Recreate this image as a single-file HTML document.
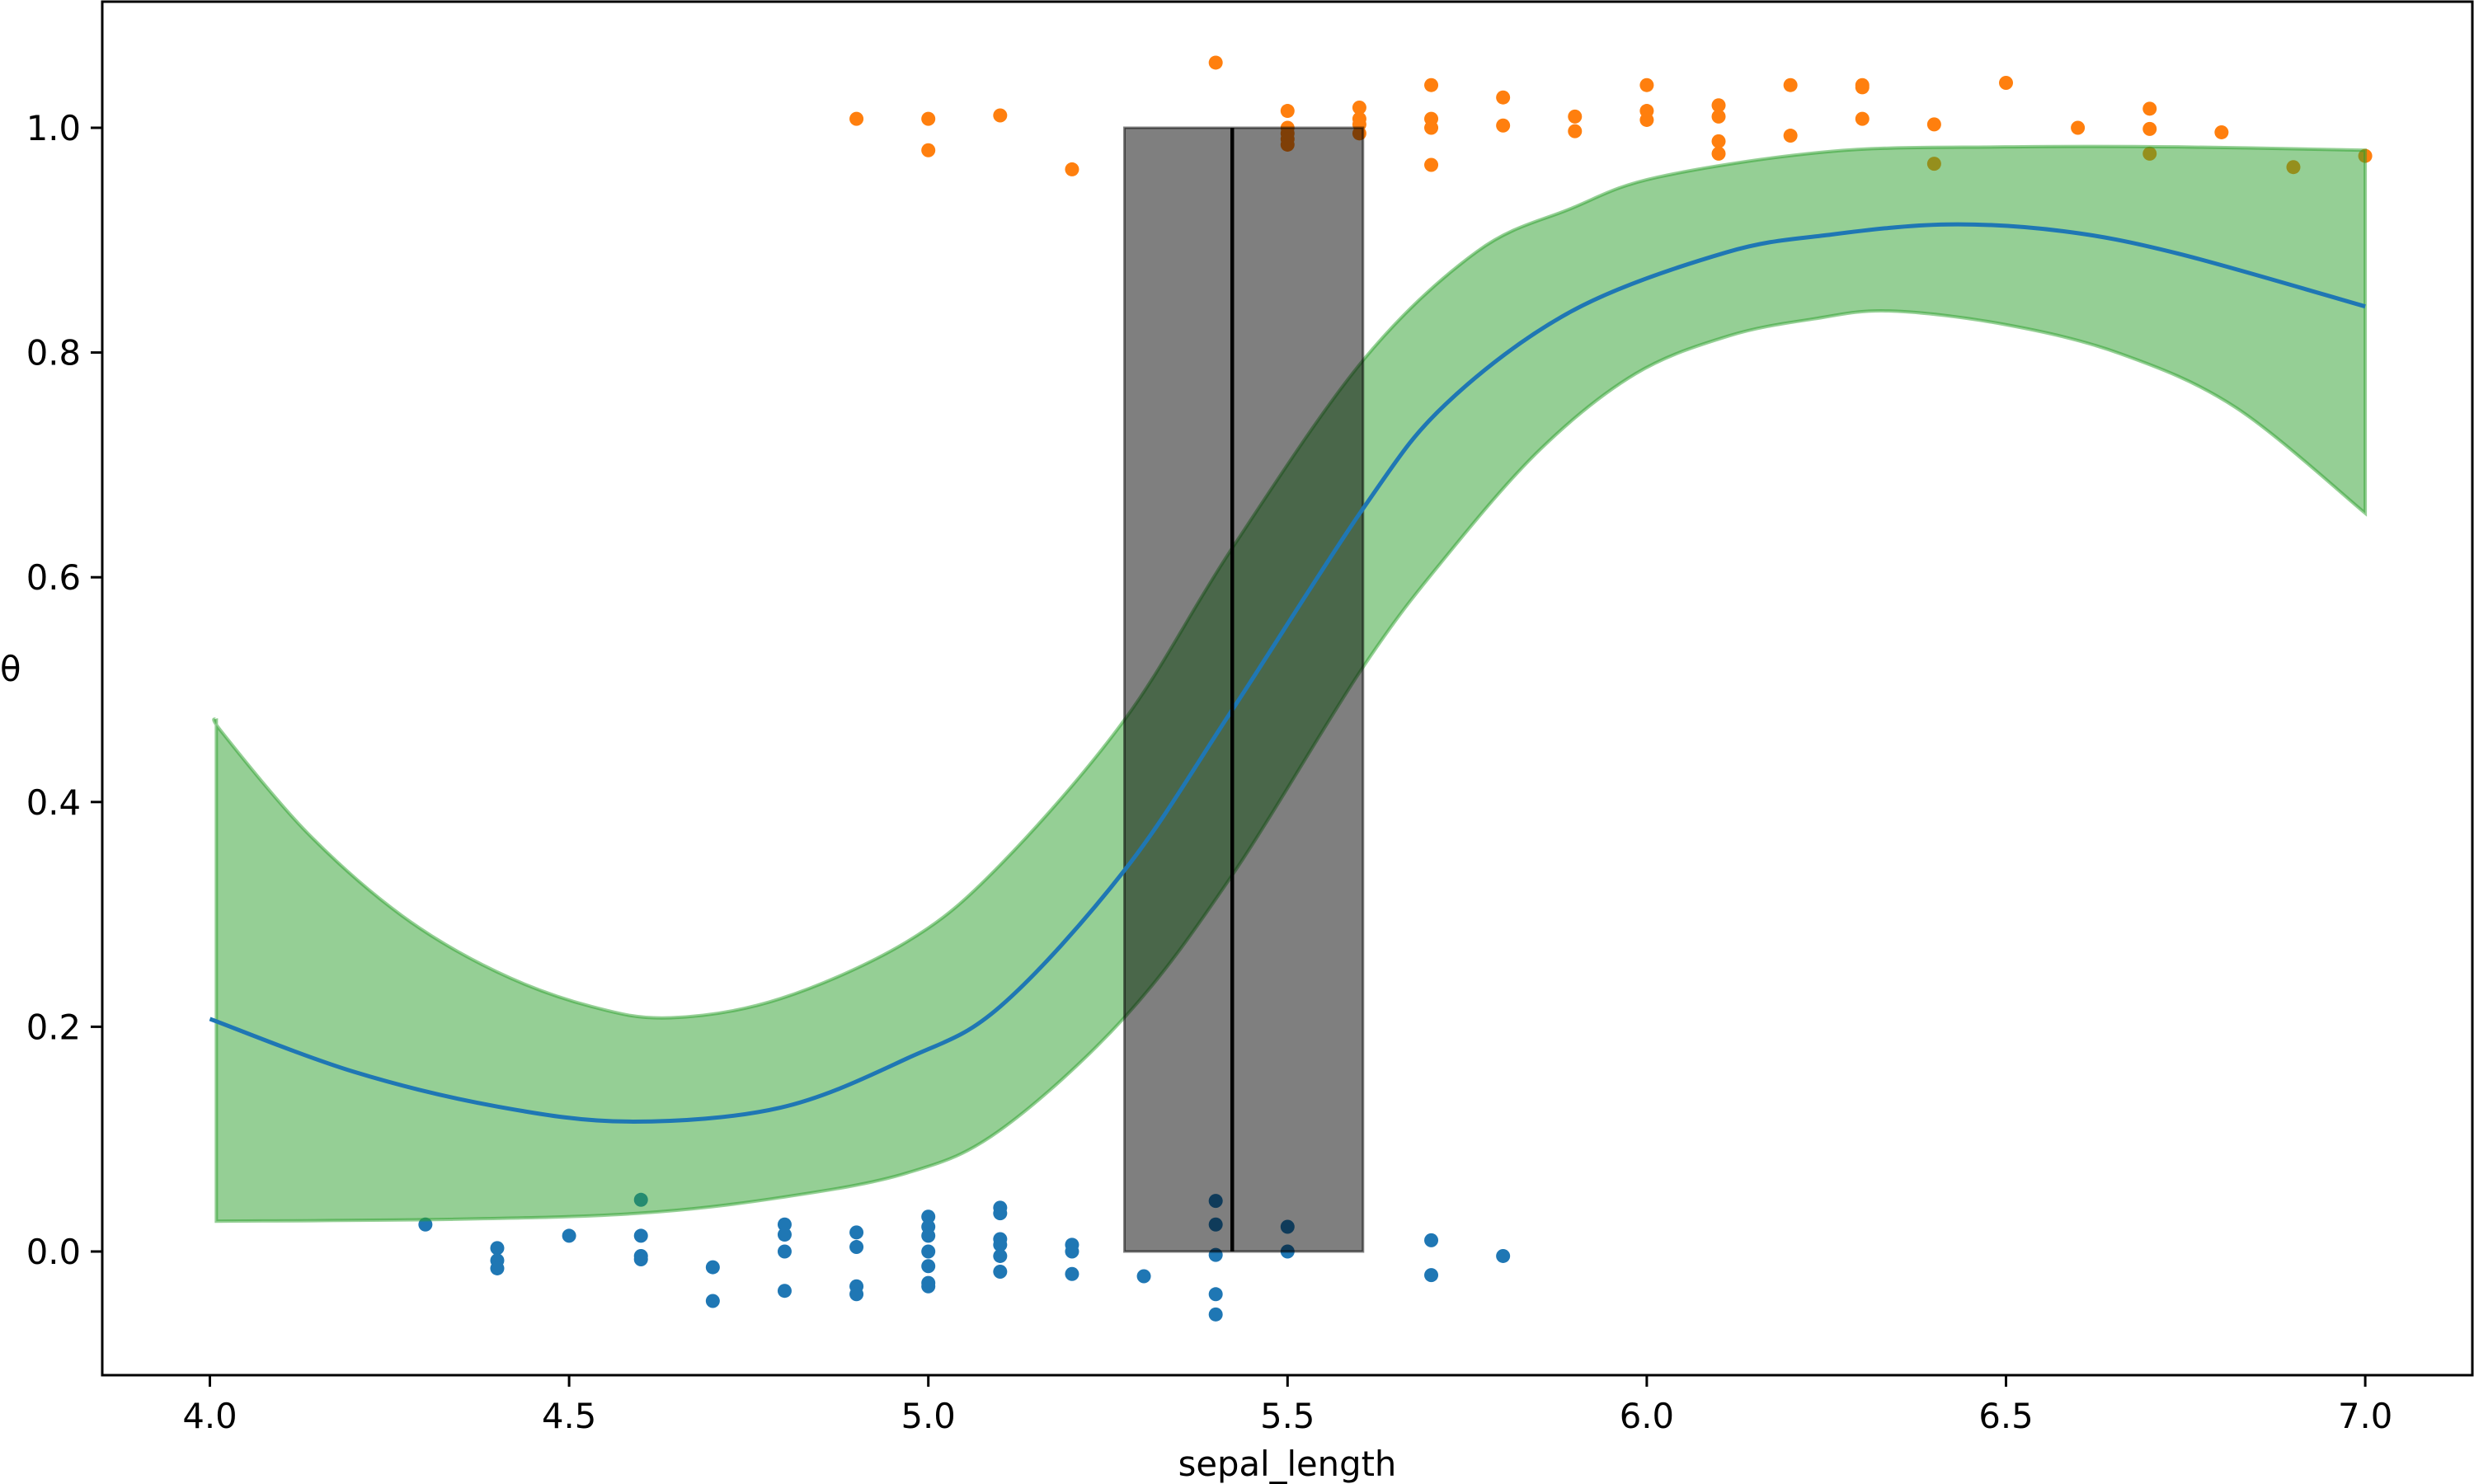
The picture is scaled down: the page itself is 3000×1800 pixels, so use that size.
<!DOCTYPE html>
<html><head><meta charset="utf-8"><style>
html,body{margin:0;padding:0;background:#fff}
svg{display:block;font-family:"DejaVu Sans","Liberation Sans",sans-serif}
</style></head><body>
<svg id="chart" width="3000" height="1800" viewBox="0 0 3000 1800" xmlns="http://www.w3.org/2000/svg">
<g id="plot"></g>
<g id="axes"></g>
</svg>
<script>
const xTicks=[4.0,4.5,5.0,5.5,6.0,6.5,7.0];
const xTickLabels=["4.0","4.5","5.0","5.5","6.0","6.5","7.0"];
const yTicks=[0.0,0.2,0.4,0.6,0.8,1.0];
const yTickLabels=["0.0","0.2","0.4","0.6","0.8","1.0"];
const upperX=[4.009,4.017,4.135,4.267,4.399,4.531,4.642,4.794,4.971,5.1,5.274,5.423,5.605,5.764,5.894,6.015,6.257,6.498,6.74,7.0];
const bandUpper=[0.474,0.462,0.373,0.299,0.249,0.218,0.208,0.225,0.276,0.344,0.474,0.626,0.793,0.89,0.928,0.956,0.979,0.983,0.983,0.980];
const lowerX=[4.009,4.333,4.596,4.794,4.971,5.1,5.274,5.423,5.605,5.72,5.852,5.984,6.115,6.233,6.337,6.498,6.659,6.82,7.0];
const bandLower=[0.027,0.0286,0.034,0.048,0.070,0.108,0.209,0.335,0.52,0.618,0.714,0.781,0.815,0.830,0.837,0.825,0.799,0.751,0.657];
const curveX=[4.0,4.2,4.4,4.584,4.794,4.971,5.1,5.274,5.423,5.605,5.72,5.896,6.11,6.257,6.418,6.579,6.74,7.0];
const curveY=[0.207,0.16,0.129,0.1156,0.128,0.172,0.218,0.340,0.482,0.661,0.754,0.837,0.889,0.905,0.914,0.908,0.888,0.841];
const class1X=[4.9,5.0,5.0,5.1,5.2,5.4,5.5,5.5,5.5,5.5,5.5,5.6,5.6,5.6,5.6,5.7,5.7,5.7,5.7,5.8,5.8,5.9,5.9,6.0,6.0,6.0,6.1,6.1,6.1,6.1,6.2,6.2,6.3,6.3,6.3,6.4,6.4,6.5,6.6,6.7,6.7,6.7,6.8,6.9,7.0];
const class1Y=[1.008,1.008,0.98,1.011,0.963,1.058,1.015,1.0,0.995,0.99,0.985,1.018,1.008,1.003,0.995,1.038,1.008,1.0,0.967,1.027,1.002,1.01,0.997,1.038,1.015,1.007,1.02,1.01,0.988,0.977,1.038,0.993,1.038,1.036,1.008,1.003,0.968,1.04,1.0,1.017,0.999,0.977,0.996,0.965,0.975];
const class0X=[4.3,4.4,4.4,4.4,4.5,4.6,4.6,4.6,4.6,4.7,4.7,4.8,4.8,4.8,4.8,4.9,4.9,4.9,4.9,5.0,5.0,5.0,5.0,5.0,5.0,5.0,5.1,5.1,5.1,5.1,5.1,5.1,5.2,5.2,5.2,5.3,5.4,5.4,5.4,5.4,5.4,5.5,5.5,5.7,5.7,5.8];
const class0Y=[0.024,0.003,-0.008,-0.015,0.014,0.046,0.014,-0.004,-0.007,-0.014,-0.044,0.024,0.015,0.0,-0.035,0.017,0.004,-0.031,-0.038,0.031,0.022,0.014,0.0,-0.013,-0.028,-0.031,0.039,0.034,0.011,0.006,-0.004,-0.018,0.006,0.0,-0.02,-0.022,0.045,0.024,-0.003,-0.038,-0.056,0.022,0.0,0.01,-0.021,-0.004];
const boundaryLow=5.273, boundaryHigh=5.605, boundaryMean=5.423;

const NS="http://www.w3.org/2000/svg";
const L=124,R=2998,T=2,B=1668;
const X=v=>254.5+(v-4.0)*871.2;
const Y=v=>1518-v*1363;
const plot=document.getElementById('plot'), axes=document.getElementById('axes');
function mk(tag,attrs,parent){const e=document.createElementNS(NS,tag);for(const k in attrs)e.setAttribute(k,attrs[k]);parent.appendChild(e);return e;}
function smooth(pts,start){
  let s=start?("M"+pts[0][0]+","+pts[0][1]):("L"+pts[0][0]+","+pts[0][1]);
  for(let i=0;i<pts.length-1;i++){
    const p0=pts[Math.max(0,i-1)],p1=pts[i],p2=pts[i+1],p3=pts[Math.min(pts.length-1,i+2)];
    const c1=[p1[0]+(p2[0]-p0[0])/6,p1[1]+(p2[1]-p0[1])/6];
    const c2=[p2[0]-(p3[0]-p1[0])/6,p2[1]-(p3[1]-p1[1])/6];
    s+="C"+c1[0]+","+c1[1]+" "+c2[0]+","+c2[1]+" "+p2[0]+","+p2[1];
  }
  return s;
}

class1X.forEach((x,i)=>{const c=mk('circle',{cx:X(x),cy:Y(class1Y[i]),r:8.5,fill:'#ff7f0e'},plot);

});
class0X.forEach((x,i)=>{const c=mk('circle',{cx:X(x),cy:Y(class0Y[i]),r:8.5,fill:'#1f77b4'},plot);

});

const up=upperX.map((x,i)=>[X(x),Y(bandUpper[i])]);
const lo=lowerX.map((x,i)=>[X(x),Y(bandLower[i])]).reverse();
const d=smooth(up,true)+smooth(lo,false)+"Z";
const band=mk('path',{d:d,fill:'#2ca02c','fill-opacity':0.5,stroke:'#2ca02c','stroke-opacity':0.5,'stroke-width':4},plot);



const box=mk('rect',{x:X(boundaryLow),y:Y(1),width:X(boundaryHigh)-X(boundaryLow),height:Y(0)-Y(1),fill:'#000','fill-opacity':0.5,stroke:'#000','stroke-opacity':0.5,'stroke-width':3},plot);



const cur=mk('path',{d:smooth(curveX.map((x,i)=>[X(x),Y(curveY[i])]),true),fill:'none',stroke:'#1f77b4','stroke-width':5,'stroke-linejoin':'round'},plot);



const bl=mk('line',{x1:X(boundaryMean),x2:X(boundaryMean),y1:Y(1),y2:Y(0),stroke:'#000','stroke-width':4.5},plot);



const fr=mk('rect',{x:L,y:T,width:R-L,height:B-T,fill:'none',stroke:'#000','stroke-width':3},axes);



xTicks.forEach((v,i)=>{const t=mk('line',{x1:X(v),x2:X(v),y1:B,y2:B+14,stroke:'#000','stroke-width':3},axes);


const tx=mk('text',{x:X(v),y:B+64,'font-size':41.7,'text-anchor':'middle',fill:'#000'},axes);tx.textContent=xTickLabels[i];

});
yTicks.forEach((v,i)=>{const t=mk('line',{x1:L-14,x2:L,y1:Y(v),y2:Y(v),stroke:'#000','stroke-width':3},axes);


const tx=mk('text',{x:L-26,y:Y(v)+15,'font-size':41.7,'text-anchor':'end',fill:'#000'},axes);tx.textContent=yTickLabels[i];

});
const xl=mk('text',{x:1561,y:1790,'font-size':41.7,'text-anchor':'middle',fill:'#000'},axes);xl.textContent="sepal_length";


const yl=mk('text',{x:0,y:826,'font-size':41.7,fill:'#000'},axes);yl.textContent="θ";


</script>
</body></html>
